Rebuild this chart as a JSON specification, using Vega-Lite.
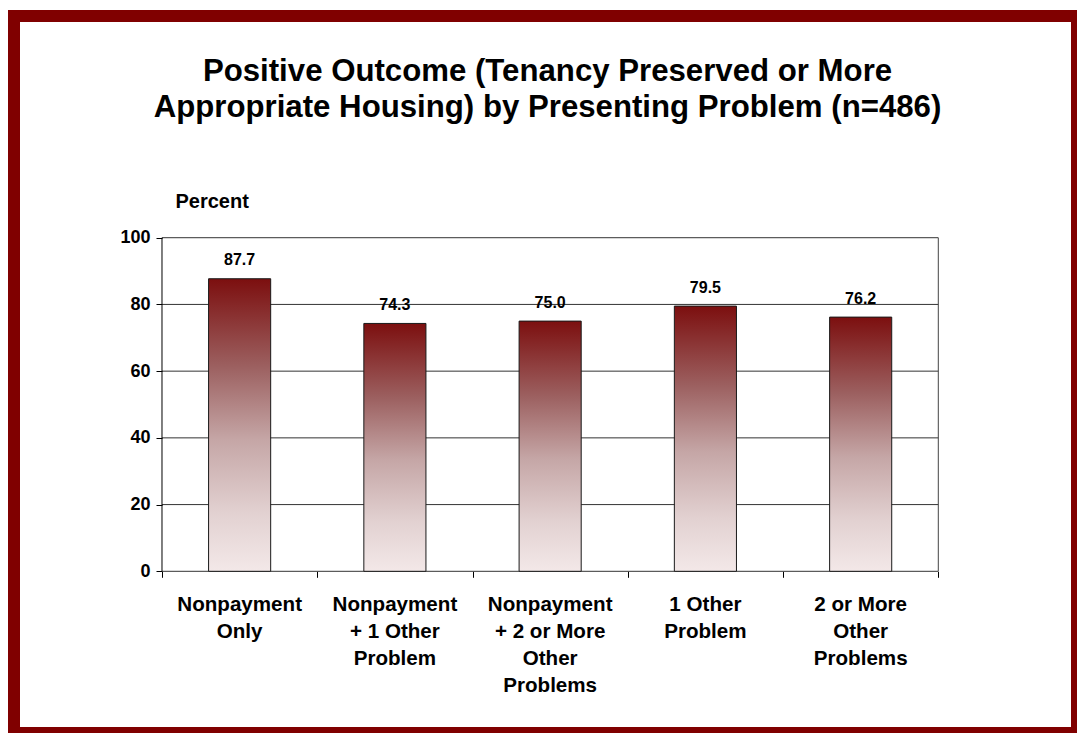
{
  "$schema": "https://vega.github.io/schema/vega-lite/v6.json",
  "width": 1063,
  "height": 717,
  "autosize": {"type": "none"},
  "padding": {"left": 14, "top": 16, "right": 0, "bottom": 0},
  "background": "white",
  "config": {
    "view": {"stroke": "#800000", "strokeWidth": 12, "fill": "white"},
    "font": "Liberation Sans"
  },
  "title": {
    "text": ["Positive Outcome (Tenancy Preserved or More", "Appropriate Housing) by Presenting Problem (n=486)"],
    "font": "Liberation Sans",
    "fontSize": 31.2,
    "fontWeight": "bold",
    "color": "black",
    "lineHeight": 36,
    "anchor": "middle",
    "frame": "group",
    "offset": -107.5,
    "dx": 2
  },
  "datasets": {
    "bars": [
      {"problem": "Nonpayment Only", "pct": 87.7},
      {"problem": "Nonpayment + 1 Other Problem", "pct": 74.3},
      {"problem": "Nonpayment + 2 or More Other Problems", "pct": 75.0},
      {"problem": "1 Other Problem", "pct": 79.5},
      {"problem": "2 or More Other Problems", "pct": 76.2}
    ],
    "grid": [{"v": 0}, {"v": 20}, {"v": 40}, {"v": 60}, {"v": 80}, {"v": 100}]
  },
  "layer": [
    {
      "layer": [
        {
          "data": {"name": "grid"},
          "mark": {"type": "rule", "color": "#333333", "strokeWidth": 1},
          "encoding": {
            "y": {
              "field": "v",
              "type": "quantitative",
              "scale": {"domain": [-48.47, 166.46], "nice": false, "zero": false},
              "axis": {
                "orient": "left",
                "offset": -148,
                "values": [0, 20, 40, 60, 80, 100],
                "domain": false,
                "grid": false,
                "ticks": true,
                "tickSize": 6,
                "tickColor": "black",
                "labelFont": "Liberation Sans",
                "labelFontSize": 18,
                "labelFontWeight": "bold",
                "labelColor": "black",
                "labelPadding": 6,
                "title": "Percent",
                "titleFont": "Liberation Sans",
                "titleFontSize": 20,
                "titleFontWeight": "bold",
                "titleColor": "black",
                "titleAngle": 0,
                "titleAlign": "left",
                "titleBaseline": "middle",
                "titleX": 13,
                "titleY": 185
              }
            },
            "x": {
              "datum": 0,
              "type": "quantitative",
              "scale": {"domain": [-0.9532, 5.8933], "nice": false, "zero": false},
              "axis": {
                "orient": "bottom",
                "offset": -161.7,
                "values": [0, 1, 2, 3, 4, 5],
                "labels": false,
                "domain": false,
                "grid": false,
                "ticks": true,
                "tickSize": 6,
                "tickColor": "black",
                "title": null
              }
            },
            "x2": {"datum": 5}
          }
        },
        {
          "data": {"values": [{}]},
          "mark": {"type": "rule", "color": "black", "strokeWidth": 1},
          "encoding": {
            "x": {"datum": 0, "type": "quantitative", "scale": {"domain": [-0.9532, 5.8933], "nice": false, "zero": false}},
            "y": {"datum": 0, "type": "quantitative", "scale": {"domain": [-48.47, 166.46], "nice": false, "zero": false}},
            "y2": {"datum": 100}
          }
        },
        {
          "data": {"values": [{}]},
          "mark": {"type": "rule", "color": "#444444", "strokeWidth": 1},
          "encoding": {
            "x": {"datum": 5, "type": "quantitative", "scale": {"domain": [-0.9532, 5.8933], "nice": false, "zero": false}},
            "y": {"datum": 0, "type": "quantitative", "scale": {"domain": [-48.47, 166.46], "nice": false, "zero": false}},
            "y2": {"datum": 100}
          }
        }
      ]
    },
    {
      "data": {"name": "bars"},
      "encoding": {
        "x": {
          "field": "problem",
          "type": "nominal",
          "sort": null,
          "scale": {"range": [148, 924.3], "paddingInner": 0.6, "paddingOuter": 0.3},
          "axis": {
            "orient": "bottom",
            "offset": -161.7,
            "title": null,
            "ticks": false,
            "domain": false,
            "grid": false,
            "labelAngle": 0,
            "labelFont": "Liberation Sans",
            "labelFontSize": 20.6,
            "labelFontWeight": "bold",
            "labelColor": "black",
            "labelPadding": 22.9,
            "labelLineHeight": 27,
            "labelLimit": 400,
            "labelOverlap": false,
            "labelExpr": "datum.value == 'Nonpayment Only' ? ['Nonpayment', 'Only'] : datum.value == 'Nonpayment + 1 Other Problem' ? ['Nonpayment', '+ 1 Other', 'Problem'] : datum.value == 'Nonpayment + 2 or More Other Problems' ? ['Nonpayment', '+ 2 or More', 'Other', 'Problems'] : datum.value == '1 Other Problem' ? ['1 Other', 'Problem'] : ['2 or More', 'Other', 'Problems']"
          }
        },
        "y": {
          "field": "pct",
          "type": "quantitative",
          "scale": {"domain": [-48.47, 166.46], "nice": false, "zero": false}
        }
      },
      "layer": [
        {
          "mark": {
            "type": "bar",
            "stroke": "#1a1a1a",
            "strokeWidth": 1,
            "color": {
              "gradient": "linear",
              "x1": 0, "y1": 0, "x2": 0, "y2": 1,
              "stops": [
                {"offset": 0, "color": "#7c0f0f"},
                {"offset": 0.3, "color": "#9c6060"},
                {"offset": 0.55, "color": "#c5a6a6"},
                {"offset": 0.8, "color": "#e2d1d1"},
                {"offset": 1, "color": "#f3e8e8"}
              ]
            }
          },
          "encoding": {"y2": {"datum": 0}}
        },
        {
          "mark": {
            "type": "text",
            "baseline": "alphabetic",
            "dy": -13.5,
            "font": "Liberation Sans",
            "fontSize": 16,
            "fontWeight": "bold",
            "color": "black"
          },
          "encoding": {"text": {"field": "pct", "type": "quantitative", "format": ".1f"}}
        }
      ]
    }
  ],
  "resolve": {"scale": {"x": "independent"}, "axis": {"x": "independent"}}
}
